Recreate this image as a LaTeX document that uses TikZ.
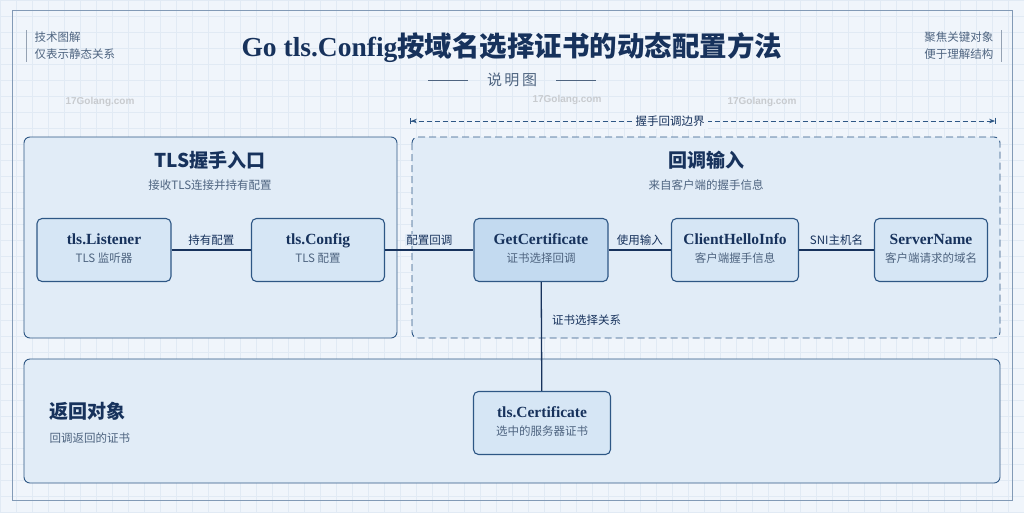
\documentclass[tikz,border=0pt]{standalone}
\usepackage{fontspec}
\setmainfont{Liberation Serif}
\setsansfont{Liberation Sans}
\newfontfamily\cjk{Noto Sans CJK SC}
\newcommand{\zh}[1]{{\cjk #1}}
\usetikzlibrary{arrows.meta}
\definecolor{navy}{HTML}{17325C}
\definecolor{bordc}{HTML}{2E5785}
\definecolor{panelf}{HTML}{E1ECF7}
\definecolor{nodef}{HTML}{D6E6F5}
\definecolor{hotf}{HTML}{C3DAF0}
\definecolor{subc}{HTML}{4E6480}
\definecolor{bg}{HTML}{F0F5FB}
\definecolor{gridc}{HTML}{E1EAF4}
\tikzset{
  box/.style={draw=bordc,line width=1.1pt,rounded corners=5pt,fill=nodef,minimum width=#1,minimum height=63pt,inner sep=0pt},
  panel/.style={draw=bordc,line width=0.9pt,rounded corners=6pt,fill=panelf},
  conn/.style={draw=navy,line width=1.3pt},
  elab/.style={text=navy,font=\cjk\fontsize{11.5}{13}\selectfont,fill=panelf,inner sep=1pt},
  wm/.style={text=gridc!50!gray!70,font=\sffamily\bfseries\fontsize{10}{11}\selectfont}
}
\newcommand{\twol}[2]{\begin{tabular}{c}\fontsize{15.5}{17}\selectfont\bfseries\color{navy}#1\\[5pt]\fontsize{11.5}{13}\selectfont\color{subc}\cjk #2\end{tabular}}
\begin{document}
\begin{tikzpicture}[x=1pt,y=-1pt]
\useasboundingbox (0,0) rectangle (1024,512);
\fill[bg] (0,0) rectangle (1024,512);
\foreach \i in {0,16,...,1024} \draw[gridc,line width=0.4pt] (\i,0)--(\i,512);
\foreach \i in {0,16,...,512} \draw[gridc,line width=0.4pt] (0,\i)--(1024,\i);
\draw[bordc!60,line width=0.8pt] (12,10) rectangle (1012,500);
% corner notes
\draw[subc!60,line width=0.8pt] (26,30)--(26,62);
\node[anchor=west,text=subc,font=\cjk\fontsize{11.5}{13}\selectfont] (tl1) at (31,37) {技术图解};
\node[anchor=west,text=subc,font=\cjk\fontsize{11.5}{13}\selectfont] (tl2) at (31,54) {仅表示静态关系};
\draw[subc!60,line width=0.8pt] (1001,30)--(1001,62);
\node[anchor=east,text=subc,font=\cjk\fontsize{11.5}{13}\selectfont] (tr1) at (997,37) {聚焦关键对象};
\node[anchor=east,text=subc,font=\cjk\fontsize{11.5}{13}\selectfont] (tr2) at (997,54) {便于理解结构};
% title
\node[text=navy,font=\fontsize{27.5}{32}\selectfont\bfseries] (title) at (512,48) {Go tls.Config\zh{按域名选择证书的动态配置方法}};
\node[text=subc,font=\cjk\fontsize{15}{17}\selectfont] (sub) at (512,80) {说\,明\,图};
\draw[subc,line width=0.8pt] (428,80)--(468,80) (556,80)--(596,80);
% watermarks
\foreach \p in {(100,102),(567,100),(762,102),(475,303),(842,299),(183,380),(420,376),(833,380)}
  \node[wm] at \p {17Golang.com};
% boundary
\draw[bordc,line width=0.9pt,dash pattern=on 5pt off 3pt,{Bar[]Stealth[length=6pt]}-{Stealth[length=6pt]Bar[]}] (410,121)--(996,121);
\node[text=navy,font=\cjk\fontsize{11.5}{13}\selectfont,fill=bg,inner sep=3pt] (bl) at (670,121) {握手回调边界};
% panels
\draw[panel] (24,137) rectangle (397,338);
\draw[panel,dash pattern=on 7pt off 4pt] (412,137) rectangle (1000,338);
\draw[panel] (24,359) rectangle (1000,483);
\node[text=navy,font=\cjk\bfseries\fontsize{19}{21}\selectfont] (p1t) at (210,160) {TLS握手入口};
\node[text=subc,font=\cjk\fontsize{11.5}{13}\selectfont] (p1s) at (210,185) {接收TLS连接并持有配置};
\node[text=navy,font=\cjk\bfseries\fontsize{19}{21}\selectfont] (p2t) at (706,160) {回调输入};
\node[text=subc,font=\cjk\fontsize{11.5}{13}\selectfont] (p2s) at (706,185) {来自客户端的握手信息};
\node[anchor=west,text=navy,font=\cjk\bfseries\fontsize{19}{21}\selectfont] (p3t) at (46,411) {返回对象};
\node[anchor=west,text=subc,font=\cjk\fontsize{11.5}{13}\selectfont] (p3s) at (46,438) {回调返回的证书};
% nodes
\node[box=134pt] (lis) at (104,250) {\twol{tls.Listener}{TLS 监听器}};
\node[box=133pt] (cfg) at (318,250) {\twol{tls.Config}{TLS 配置}};
\node[box=134pt,fill=hotf] (gc) at (541,250) {\twol{GetCertificate}{证书选择回调}};
\node[box=127pt] (chi) at (735,250) {\twol{ClientHelloInfo}{客户端握手信息}};
\node[box=113pt] (sn) at (931,250) {\twol{ServerName}{客户端请求的域名}};
\node[box=137pt] (cert) at (542,423) {\twol{tls.Certificate}{选中的服务器证书}};
% connectors
\draw[conn] (lis)--(cfg) node[midway,above=3pt,elab] {持有配置};
\draw[conn] (cfg)--(gc) node[midway,above=3pt,elab] {配置回调};
\draw[conn] (gc)--(chi) node[midway,above=3pt,elab] {使用输入};
\draw[conn] (chi)--(sn) node[midway,above=3pt,elab] {SNI主机名};
\draw[conn] (gc)--(cert);
\node[elab,anchor=west] (rel) at (551,320) {证书选择关系};
\end{tikzpicture}
\end{document}
